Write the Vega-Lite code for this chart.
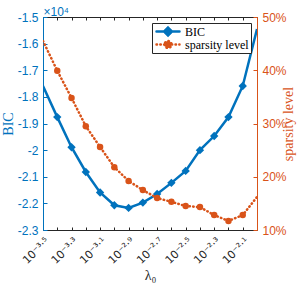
{
  "$schema": "https://vega.github.io/schema/vega-lite/v6.json",
  "width": 214,
  "height": 213,
  "autosize": "none",
  "padding": {"left": 43, "top": 17, "right": 47, "bottom": 55},
  "data": {"values": [
    {"e": -3.5, "bic": -1.759, "sp": 45.5},
    {"e": -3.4, "bic": -1.876, "sp": 39.9},
    {"e": -3.3, "bic": -1.989, "sp": 34.8},
    {"e": -3.2, "bic": -2.082, "sp": 29.5},
    {"e": -3.1, "bic": -2.159, "sp": 25.6},
    {"e": -3.0, "bic": -2.207, "sp": 21.8},
    {"e": -2.9, "bic": -2.217, "sp": 19.2},
    {"e": -2.8, "bic": -2.197, "sp": 17.5},
    {"e": -2.7, "bic": -2.165, "sp": 16.0},
    {"e": -2.6, "bic": -2.123, "sp": 15.3},
    {"e": -2.5, "bic": -2.078, "sp": 14.5},
    {"e": -2.4, "bic": -2.000, "sp": 14.3},
    {"e": -2.3, "bic": -1.947, "sp": 12.8},
    {"e": -2.2, "bic": -1.876, "sp": 11.7},
    {"e": -2.1, "bic": -1.759, "sp": 12.8},
    {"e": -2.0, "bic": -1.545, "sp": 16.2}
  ]},
  "layer": [
    {
      "mark": {"type": "line", "strokeWidth": 2.5, "clip": true},
      "encoding": {
        "x": {"field": "e", "type": "quantitative", "scale": {"domain": [-3.5, -2.0], "nice": false, "zero": false},
          "axis": {"orient": "bottom", "values": [-3.5, -3.4, -3.3, -3.2, -3.1, -3.0, -2.9, -2.8, -2.7, -2.6, -2.5, -2.4, -2.3, -2.2, -2.1, -2.0],
            "labelExpr": "round(datum.value*10) == -35 ? '10⁻³·⁵' : round(datum.value*10) == -33 ? '10⁻³·³' : round(datum.value*10) == -31 ? '10⁻³·¹' : round(datum.value*10) == -29 ? '10⁻²·⁹' : round(datum.value*10) == -27 ? '10⁻²·⁷' : round(datum.value*10) == -25 ? '10⁻²·⁵' : round(datum.value*10) == -23 ? '10⁻²·³' : round(datum.value*10) == -21 ? '10⁻²·¹' : ''",
            "labelAngle": -45, "labelOverlap": false, "labelFlush": false, "labelBound": false,
            "tickSize": -3, "labelPadding": 8, "tickColor": "#262626", "domainColor": "#262626", "labelColor": "#262626",
            "labelFont": "DejaVu Sans", "labelFontSize": 11, "grid": false,
            "title": "λ₀", "titleFont": "Liberation Serif", "titleFontSize": 14, "titleFontWeight": "normal", "titleColor": "#262626", "titlePadding": 3}},
        "y": {"field": "bic", "type": "quantitative", "scale": {"domain": [-2.3, -1.5], "nice": false, "zero": false},
          "axis": {"orient": "left", "values": [-2.3, -2.2, -2.1, -2.0, -1.9, -1.8, -1.7, -1.6, -1.5],
            "labelExpr": "replace(format(datum.value, '.1~f'), '−', '-')",
            "tickSize": -4, "labelPadding": 9, "tickColor": "#0072BD", "domainColor": "#0072BD", "labelColor": "#0072BD",
            "labelFont": "Liberation Sans", "labelFontSize": 12, "grid": false,
            "title": "BIC", "titleFont": "Liberation Serif", "titleFontSize": 14, "titleFontWeight": "normal", "titleColor": "#0072BD", "titlePadding": 2}},
        "color": {"datum": "BIC", "type": "nominal", "scale": {"domain": ["BIC", "sparsity level"], "range": ["#0072BD", "#D95319"]},
          "legend": {"title": null, "orient": "top-right", "offset": 6, "fillColor": "white", "strokeColor": "#262626", "padding": 2,
            "labelFont": "Liberation Serif", "labelFontSize": 12, "labelColor": "#000000", "labelOffset": 19,
            "symbolSize": 49, "symbolStrokeWidth": 2.5, "rowPadding": 0, "clipHeight": 13,
            "symbolType": "M-1,0L5.57,0M2.29,-1.14L3.43,0L2.29,1.14L1.15,0Z",
            "encode": {"symbols": {"update": {
              "shape": {"signal": "datum.value == 'BIC' ? 'M-1,0L5.57,0M2.29,-1.14L3.43,0L2.29,1.14L1.15,0Z' : 'M-1,0L5.57,0M1.29,0A1,1,0,1,0,3.29,0A1,1,0,1,0,1.29,0Z'"},
              "strokeDash": {"signal": "datum.value == 'BIC' ? [] : [0.5, 3.3]"},
              "strokeCap": {"value": "round"},
              "fill": {"signal": "datum.value == 'BIC' ? '#0072BD' : '#D95319'"},
              "stroke": {"signal": "datum.value == 'BIC' ? '#0072BD' : '#D95319'"}
            }}}}}
      }
    },
    {
      "transform": [{"filter": "datum.e > -3.45 && datum.e < -2.05"}],
      "mark": {"type": "point", "shape": "diamond", "filled": true, "size": 70, "color": "#0072BD", "opacity": 1},
      "encoding": {
        "x": {"field": "e", "type": "quantitative", "scale": {"domain": [-3.5, -2.0], "nice": false, "zero": false},
          "axis": {"orient": "top", "values": [-3.5, -3.4, -3.3, -3.2, -3.1, -3.0, -2.9, -2.8, -2.7, -2.6, -2.5, -2.4, -2.3, -2.2, -2.1, -2.0],
            "labels": false, "tickSize": -3, "tickColor": "#262626", "domainColor": "#262626", "grid": false, "title": null}},
        "y": {"field": "bic", "type": "quantitative", "scale": {"domain": [-2.3, -1.5], "nice": false, "zero": false},
          "axis": {"orient": "left", "domain": false, "ticks": false, "labels": false, "grid": false,
            "title": "×10⁴", "titleAngle": 0, "titleX": 0, "titleY": -2, "titleAlign": "left", "titleBaseline": "alphabetic",
            "titleColor": "#0072BD", "titleFont": "Liberation Sans", "titleFontSize": 12, "titleFontWeight": "normal"}}
      }
    },
    {
      "mark": {"type": "line", "strokeWidth": 2.5, "strokeDash": [0.5, 3.3], "strokeCap": "round", "clip": true},
      "encoding": {
        "x": {"field": "e", "type": "quantitative", "scale": {"domain": [-3.5, -2.0], "nice": false, "zero": false}, "axis": null},
        "y": {"field": "sp", "type": "quantitative", "scale": {"domain": [10, 50], "nice": false, "zero": false},
          "axis": {"orient": "right", "values": [10, 20, 30, 40, 50], "labelExpr": "datum.value + '%'",
            "tickSize": -4, "labelPadding": 9, "tickColor": "#D95319", "domainColor": "#D95319", "labelColor": "#D95319",
            "labelFont": "Liberation Sans", "labelFontSize": 12, "grid": false,
            "title": "sparsity level", "titleFont": "Liberation Serif", "titleFontSize": 14, "titleFontWeight": "normal", "titleColor": "#D95319",
            "titleAngle": 270, "titlePadding": 9}},
        "color": {"datum": "sparsity level", "type": "nominal"}
      }
    },
    {
      "transform": [{"filter": "datum.e > -3.45 && datum.e < -2.05"}],
      "mark": {"type": "point", "shape": "circle", "filled": true, "size": 42, "color": "#D95319", "opacity": 1},
      "encoding": {
        "x": {"field": "e", "type": "quantitative", "scale": {"domain": [-3.5, -2.0], "nice": false, "zero": false}, "axis": null},
        "y": {"field": "sp", "type": "quantitative", "scale": {"domain": [10, 50], "nice": false, "zero": false}, "axis": null}
      }
    }
  ],
  "resolve": {"scale": {"y": "independent"}, "axis": {"x": "independent", "y": "independent"}},
  "config": {"view": {"stroke": null}, "axis": {"grid": false}}
}
